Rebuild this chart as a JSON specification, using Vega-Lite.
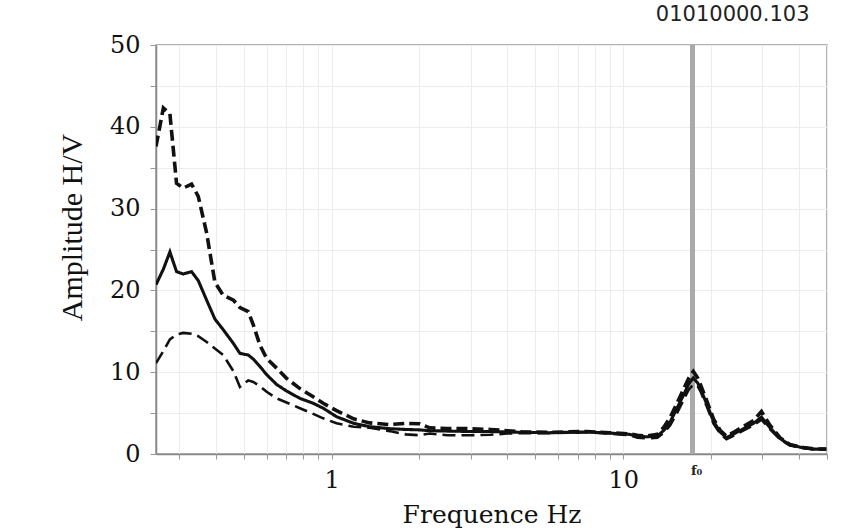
{
  "$schema": "https://vega.github.io/schema/vega-lite/v6.json",
  "autosize": "none",
  "width": 671,
  "height": 409,
  "padding": {"left": 156, "top": 45, "right": 35, "bottom": 75},
  "background": "white",
  "title": {
    "text": "01010000.103",
    "anchor": "end",
    "orient": "top",
    "dx": -18,
    "offset": 8,
    "font": "DejaVu Sans",
    "fontSize": 21,
    "fontWeight": "normal",
    "color": "#222"
  },
  "config": {
    "view": {"stroke": "#999", "strokeWidth": 1.5},
    "axis": {
      "domainColor": "#888",
      "domainWidth": 1.5,
      "tickColor": "#999",
      "gridColor": "#ececec",
      "gridWidth": 1,
      "labelFont": "DejaVu Serif",
      "labelFontSize": 24,
      "labelColor": "#111",
      "titleFontWeight": "normal",
      "titleColor": "#111"
    }
  },
  "datasets": {
    "hv": [
      {"f": 0.25, "mean": 20.7, "upper": 37.6, "lower": 11.1},
      {"f": 0.265, "mean": 22.6, "upper": 42.3, "lower": 12.6},
      {"f": 0.279, "mean": 24.7, "upper": 41.6, "lower": 14.0},
      {"f": 0.294, "mean": 22.3, "upper": 33.1, "lower": 14.6},
      {"f": 0.31, "mean": 22.0, "upper": 32.5, "lower": 14.8},
      {"f": 0.331, "mean": 22.3, "upper": 33.0, "lower": 14.7},
      {"f": 0.349, "mean": 21.2, "upper": 31.5, "lower": 14.4},
      {"f": 0.373, "mean": 18.8, "upper": 27.0, "lower": 13.7},
      {"f": 0.398, "mean": 16.5, "upper": 21.0, "lower": 12.9},
      {"f": 0.425, "mean": 15.2, "upper": 19.4, "lower": 12.1},
      {"f": 0.461, "mean": 13.5, "upper": 18.8, "lower": 10.1},
      {"f": 0.485, "mean": 12.3, "upper": 17.9, "lower": 8.2},
      {"f": 0.518, "mean": 12.1, "upper": 17.4, "lower": 9.0},
      {"f": 0.539, "mean": 11.6, "upper": 15.8, "lower": 8.8},
      {"f": 0.568, "mean": 10.7, "upper": 13.3, "lower": 8.3},
      {"f": 0.599, "mean": 9.7, "upper": 11.7, "lower": 7.6},
      {"f": 0.648, "mean": 8.5, "upper": 10.5, "lower": 6.8},
      {"f": 0.701, "mean": 7.7, "upper": 9.25, "lower": 6.3},
      {"f": 0.779, "mean": 6.8, "upper": 8.0, "lower": 5.6},
      {"f": 0.865, "mean": 6.2, "upper": 7.0, "lower": 4.9},
      {"f": 0.936, "mean": 5.6, "upper": 6.2, "lower": 4.36},
      {"f": 1.04, "mean": 4.56, "upper": 5.3, "lower": 3.75},
      {"f": 1.19, "mean": 3.75, "upper": 4.3, "lower": 3.34},
      {"f": 1.35, "mean": 3.34, "upper": 3.8, "lower": 3.2},
      {"f": 1.58, "mean": 3.1, "upper": 3.6, "lower": 2.8},
      {"f": 1.8, "mean": 3.0, "upper": 3.75, "lower": 2.4},
      {"f": 2.0, "mean": 2.95, "upper": 3.7, "lower": 2.3},
      {"f": 2.17, "mean": 2.85, "upper": 3.2, "lower": 2.5},
      {"f": 2.5, "mean": 2.8, "upper": 3.1, "lower": 2.3},
      {"f": 3.0, "mean": 2.75, "upper": 3.1, "lower": 2.3},
      {"f": 3.5, "mean": 2.75, "upper": 3.0, "lower": 2.35},
      {"f": 4.0, "mean": 2.7, "upper": 2.85, "lower": 2.5},
      {"f": 4.5, "mean": 2.65, "upper": 2.7, "lower": 2.55},
      {"f": 5.5, "mean": 2.6, "upper": 2.65, "lower": 2.55},
      {"f": 6.5, "mean": 2.65, "upper": 2.7, "lower": 2.6},
      {"f": 7.5, "mean": 2.7, "upper": 2.75, "lower": 2.65},
      {"f": 9.0, "mean": 2.55, "upper": 2.6, "lower": 2.5},
      {"f": 10.5, "mean": 2.4, "upper": 2.45, "lower": 2.3},
      {"f": 11.2, "mean": 2.2, "upper": 2.3, "lower": 2.0},
      {"f": 12.0, "mean": 2.1, "upper": 2.2, "lower": 1.9},
      {"f": 13.1, "mean": 2.2, "upper": 2.4, "lower": 2.0},
      {"f": 13.8, "mean": 2.9, "upper": 3.3, "lower": 2.6},
      {"f": 14.5, "mean": 3.95, "upper": 4.5, "lower": 3.5},
      {"f": 15.3, "mean": 5.6, "upper": 6.2, "lower": 5.0},
      {"f": 16.1, "mean": 7.2, "upper": 7.9, "lower": 6.6},
      {"f": 16.8, "mean": 8.6, "upper": 9.3, "lower": 7.9},
      {"f": 17.4, "mean": 9.3, "upper": 10.1, "lower": 8.5},
      {"f": 18.0, "mean": 8.7, "upper": 9.3, "lower": 8.3},
      {"f": 18.4, "mean": 8.0, "upper": 8.5, "lower": 7.7},
      {"f": 19.4, "mean": 6.0, "upper": 6.4, "lower": 5.7},
      {"f": 20.4, "mean": 4.0, "upper": 4.3, "lower": 3.7},
      {"f": 21.5, "mean": 2.7, "upper": 2.9, "lower": 2.5},
      {"f": 22.6, "mean": 2.0, "upper": 2.2, "lower": 1.8},
      {"f": 23.8, "mean": 2.4, "upper": 2.6, "lower": 2.2},
      {"f": 25.9, "mean": 3.1, "upper": 3.4, "lower": 2.9},
      {"f": 28.0, "mean": 3.75, "upper": 4.1, "lower": 3.5},
      {"f": 29.8, "mean": 4.5, "upper": 5.2, "lower": 4.2},
      {"f": 31.9, "mean": 3.2, "upper": 3.5, "lower": 3.0},
      {"f": 34.5, "mean": 1.9, "upper": 2.0, "lower": 1.8},
      {"f": 37.3, "mean": 1.1, "upper": 1.15, "lower": 1.05},
      {"f": 41.6, "mean": 0.75, "upper": 0.8, "lower": 0.7},
      {"f": 45.0, "mean": 0.6, "upper": 0.62, "lower": 0.58},
      {"f": 49.7, "mean": 0.6, "upper": 0.6, "lower": 0.6}
    ],
    "marker": [
      {"f": 17.3, "amp": 0, "label": "f₀"}
    ]
  },
  "data": {"name": "hv"},
  "encoding": {
    "x": {
      "field": "f",
      "type": "quantitative",
      "scale": {"type": "log", "domain": [0.25, 50], "nice": false},
      "axis": {
        "title": "Frequence Hz",
        "titleFont": "DejaVu Serif",
        "titleFontSize": 25,
        "titlePadding": 10,
        "values": [0.3, 0.4, 0.5, 0.6, 0.7, 0.8, 0.9, 1, 2, 3, 4, 5, 6, 7, 8, 9, 10, 20, 30, 40, 50],
        "labelExpr": "datum.value == 1 || datum.value == 10 ? format(datum.value, 'd') : ''",
        "tickSize": 5,
        "labelPadding": 9,
        "labelFlush": false,
        "labelOverlap": false
      }
    },
    "y": {
      "field": "amp",
      "type": "quantitative",
      "scale": {"domain": [0, 50], "nice": false, "zero": true},
      "axis": {
        "title": "Amplitude H/V",
        "titleFont": "Liberation Serif",
        "titleFontSize": 30,
        "titlePadding": 22,
        "titleY": 182,
        "values": [0, 5, 10, 15, 20, 25, 30, 35, 40, 45, 50],
        "labelExpr": "datum.value % 10 == 0 ? format(datum.value, 'd') : ''",
        "tickSize": 6,
        "labelPadding": 10,
        "labelFlush": false,
        "labelOverlap": false
      }
    }
  },
  "layer": [
    {
      "mark": {"type": "rule", "color": "#aaa", "strokeWidth": 4},
      "encoding": {"x": {"datum": 17.3}, "y": null}
    },
    {
      "transform": [{"fold": ["upper", "lower", "mean"], "as": ["series", "amp"]}],
      "mark": {"type": "line", "color": "#111", "clip": true},
      "encoding": {
        "detail": {"field": "series"},
        "strokeDash": {
          "field": "series",
          "type": "nominal",
          "scale": {"domain": ["upper", "mean", "lower"], "range": [[11, 5], [1, 0], [13, 6]]},
          "legend": null
        },
        "strokeWidth": {
          "field": "series",
          "type": "nominal",
          "scale": {"domain": ["upper", "mean", "lower"], "range": [3.6, 2.6, 3.2]},
          "legend": null
        }
      }
    },
    {
      "data": {"name": "marker"},
      "mark": {"type": "text", "font": "DejaVu Serif", "fontSize": 13, "fontWeight": "bold", "color": "#222", "dy": 17, "dx": 4, "align": "center", "clip": false},
      "encoding": {
        "x": {"field": "f", "type": "quantitative"},
        "y": {"field": "amp", "type": "quantitative"},
        "text": {"field": "label"}
      }
    }
  ]
}
